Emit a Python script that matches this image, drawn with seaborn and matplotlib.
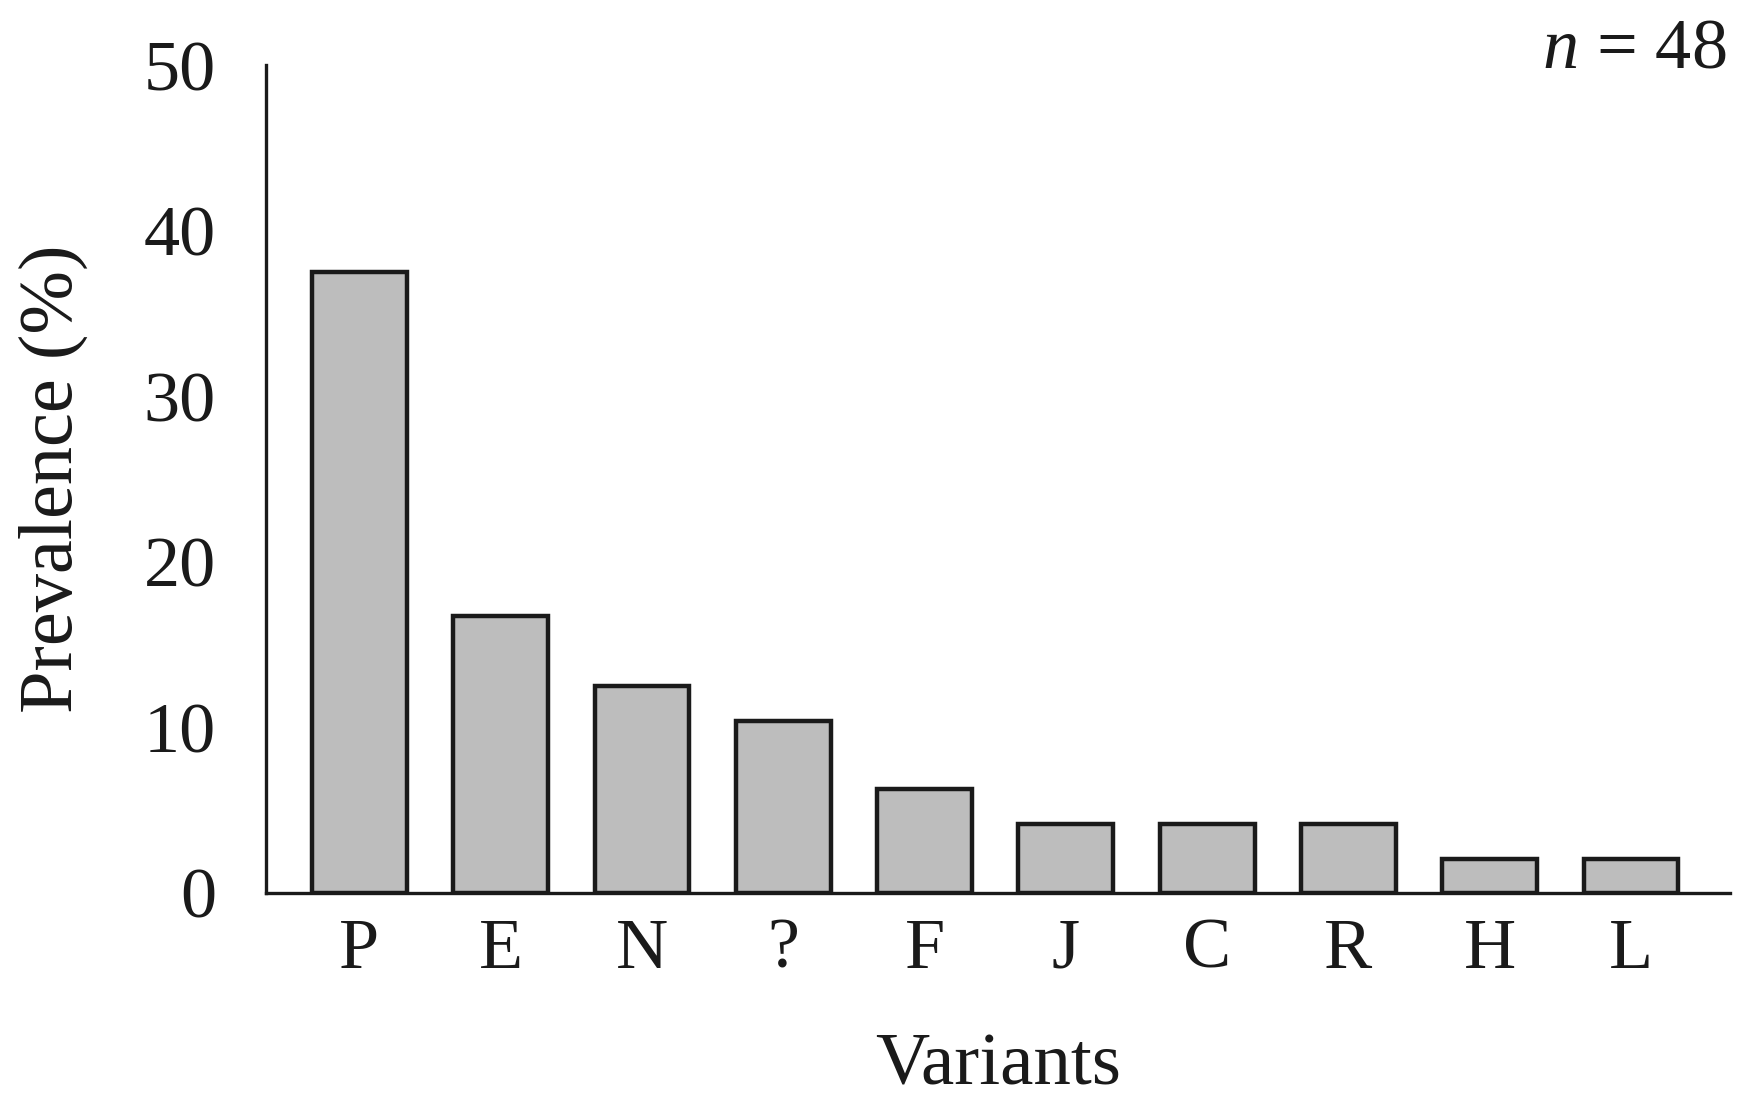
import matplotlib
matplotlib.use('Agg')
import matplotlib.pyplot as plt
import seaborn as sns
import pandas as pd

variants   = ['P', 'E', 'N', '?', 'F', 'J', 'C', 'R', 'H', 'L']
prevalence = [37.5, 16.7, 12.5, 10.4, 6.25, 4.17, 4.17, 4.17, 2.08, 2.08]
y_ticks    = [0, 10, 20, 30, 40, 50]
n_total    = 48

sns.set_theme(style='white')
plt.rcParams['font.family'] = ['Liberation Serif', 'DejaVu Serif']
plt.rcParams['mathtext.fontset'] = 'custom'
plt.rcParams['mathtext.it'] = 'Liberation Serif:italic'
plt.rcParams['mathtext.rm'] = 'Liberation Serif'

data = pd.DataFrame({'Variants': variants, 'Prevalence': prevalence})

fig = plt.figure(figsize=(17.44, 11.06), dpi=100)
ax = fig.add_axes([0.1525, 0.1926, 0.8395, 0.7486])

sns.barplot(data=data, x='Variants', y='Prevalence', color='#bdbdbd',
            saturation=1, width=0.67, edgecolor='#1a1a1a', linewidth=3.2, ax=ax)

ax.set_xlim(-0.66, 9.70)
ax.set_ylim(0, 50)
ax.set_yticks(y_ticks)

sns.despine(ax=ax)
for side in ['left', 'bottom']:
    ax.spines[side].set_linewidth(2.4)
    ax.spines[side].set_color('#1a1a1a')

ax.tick_params(axis='both', length=0, labelsize=52, colors='#1a1a1a')
ax.tick_params(axis='y', pad=36)
ax.tick_params(axis='x', pad=18)

ax.set_xlabel('Variants', fontsize=54, labelpad=36, color='#1a1a1a')
ax.set_ylabel('Prevalence (%)', fontsize=55, labelpad=40, color='#1a1a1a')

fig.text(0.99, 0.955, r'$n$' + ' = %d' % n_total, fontsize=52,
         ha='right', va='center', color='#1a1a1a')

fig.savefig('out.png', dpi=100)
